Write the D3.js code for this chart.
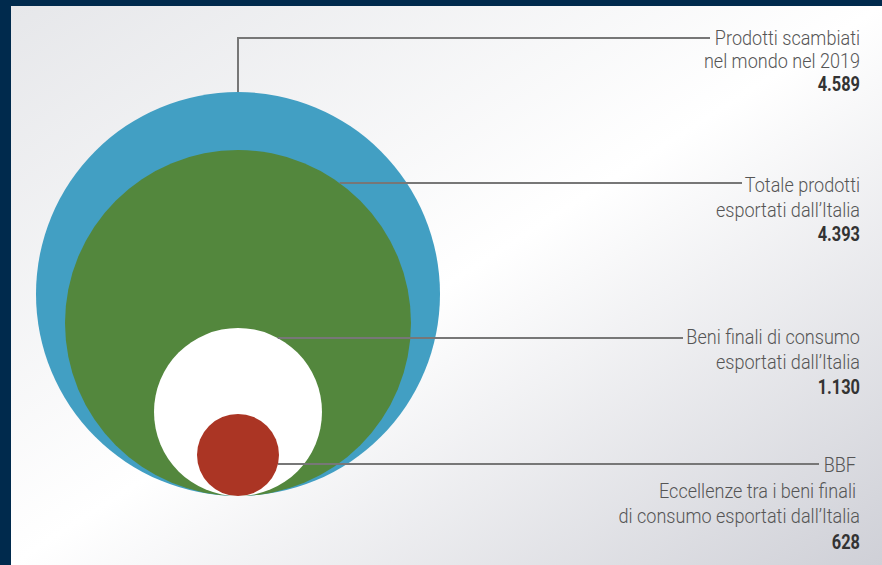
<!DOCTYPE html>
<html>
<head>
<meta charset="utf-8">
<script src="https://cdn.jsdelivr.net/npm/d3@7"></script>
<style>
  html, body { margin: 0; padding: 0; background: #002a4d; }
  #chart { width: 882px; height: 565px; }
</style>
</head>
<body>
<div id="chart"></div>
<script>
const categories = ["Prodotti scambiati nel mondo nel 2019", "Totale prodotti esportati dall’Italia", "Beni finali di consumo esportati dall’Italia", "BBF"];
const values = [4589, 4393, 1130, 628];
const labelLines = [
  ["Prodotti scambiati", "nel mondo nel 2019"],
  ["Totale prodotti", "esportati dall’Italia"],
  ["Beni finali di consumo", "esportati dall’Italia"],
  ["BBF", "Eccellenze tra i beni finali", "di consumo esportati dall’Italia"]
];
const valueLabels = ["4.589", "4.393", "1.130", "628"];
const colors = ["#429fc3", "#53873d", "#ffffff", "#ab3524"];

const width = 882, height = 565;
const svg = d3.select("#chart").append("svg")
  .attr("width", width)
  .attr("height", height);

const defs = svg.append("defs");
const grad = defs.append("linearGradient")
  .attr("id", "bg")
  .attr("x1", "0%").attr("y1", "0%")
  .attr("x2", "100%").attr("y2", "100%");
grad.append("stop").attr("offset", "0%").attr("stop-color", "#e6e7ea");
grad.append("stop").attr("offset", "50%").attr("stop-color", "#ffffff");
grad.append("stop").attr("offset", "100%").attr("stop-color", "#cfd0d7");

// frame
svg.append("rect").attr("width", width).attr("height", height).attr("fill", "#002a4d");
svg.append("rect")
  .attr("x", 11).attr("y", 6)
  .attr("width", width - 11).attr("height", height - 6)
  .attr("fill", "url(#bg)");

// circle size: piecewise scale (not area-proportional)
const r = d3.scaleLinear()
  .domain([628, 1130, 4393, 4589])
  .range([41, 84, 173, 202]);

const cx = 238, baseY = 496;

svg.selectAll("circle.bubble")
  .data(values)
  .join("circle")
  .attr("class", "bubble")
  .attr("cx", cx)
  .attr("cy", d => baseY - r(d))
  .attr("r", d => r(d))
  .attr("fill", (d, i) => colors[i]);

// label blocks
const textRight = 860;
const lineGap = [23, 24.5, 25, 25.5];
const blockTop = [45, 192, 344, 472];
const lineY = [38, 183, 338, 464];
const lineEnd = [710, 742, 683, 819];

const leader = svg.append("g")
  .attr("stroke", "#777")
  .attr("stroke-width", 2)
  .attr("fill", "none");

values.forEach((v, i) => {
  const rad = r(v);
  const cy = baseY - rad;
  let pts;
  if (i === 0) {
    pts = [[cx, cy - rad], [cx, lineY[i]], [lineEnd[i], lineY[i]]];
  } else {
    const dy = lineY[i] - cy;
    const dx = Math.sqrt(rad * rad - dy * dy);
    pts = [[cx + dx, lineY[i]], [lineEnd[i], lineY[i]]];
  }
  leader.append("path").attr("d", d3.line()(pts));
});

const labels = svg.append("g")
  .attr("font-family", "Roboto, sans-serif")
  .attr("text-anchor", "end");

labelLines.forEach((lines, i) => {
  lines.forEach((t, j) => {
    const x = textRight - (i === 3 && j < 2 ? 4 : 0);
    labels.append("text")
      .attr("transform", `translate(${x},${blockTop[i] + j * lineGap[i]}) scale(0.86,1)`)
      .attr("font-size", 21)
      .attr("font-weight", 300)
      .attr("fill", "#555")
      .text(t);
  });
  labels.append("text")
    .attr("transform", `translate(${textRight},${blockTop[i] + lines.length * lineGap[i]}) scale(0.8,1)`)
    .attr("font-size", 20.5)
    .attr("font-weight", 700)
    .attr("fill", "#333")
    .text(valueLabels[i]);
});
</script>
</body>
</html>
